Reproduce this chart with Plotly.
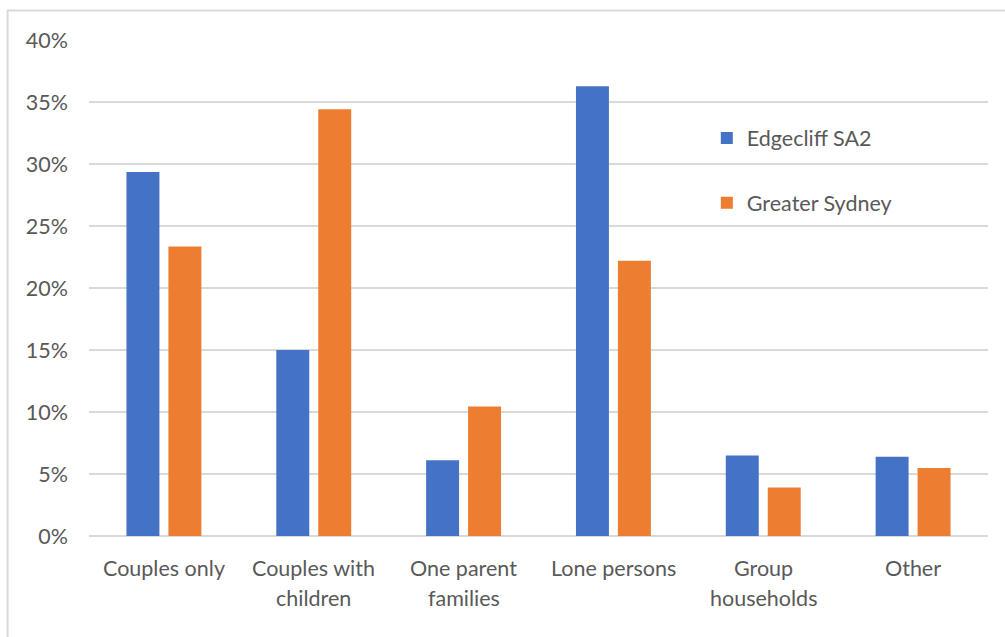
import plotly.graph_objects as go

# Household type shares, Edgecliff SA2 vs Greater Sydney
categories = ["Couples only", "Couples with children", "One parent families",
              "Lone persons", "Group households", "Other"]
label_lines = [["Couples only"], ["Couples with", "children"], ["One parent", "families"],
               ["Lone persons"], ["Group", "households"], ["Other"]]
edgecliff = [0.2935, 0.150, 0.061, 0.3628, 0.065, 0.064]
greater_sydney = [0.2335, 0.3441, 0.1045, 0.222, 0.0392, 0.0548]
series_names = ["Edgecliff SA2", "Greater Sydney"]
y_ticks = [0, 0.05, 0.10, 0.15, 0.20, 0.25, 0.30, 0.35, 0.40]

BLUE = "#4472C4"
ORANGE = "#ED7D31"
GRID = "#d9d9d9"
TEXT = "#595959"
FONT = "Lato"
FS = 21.5

W, H = 1005, 637
L, R, T, B = 88.5, 16.5, 39.5, 101
PW, PH = W - L - R, H - T - B


def px_x(px):
    return (px - L) / PW


def px_y(py):
    return (H - B - py) / PH


fig = go.Figure()
fig.add_trace(go.Bar(
    x=list(range(len(categories))), y=edgecliff, name=series_names[0],
    marker=dict(color=BLUE, line=dict(width=0)),
    width=0.22, offset=-0.25, legendgroup="a",
))
fig.add_trace(go.Bar(
    x=list(range(len(categories))), y=greater_sydney, name=series_names[1],
    marker=dict(color=ORANGE, line=dict(width=0)),
    width=0.22, offset=0.03, legendgroup="b",
))

# category labels, one annotation per text line
annotations = []
for i, lines in enumerate(label_lines):
    for j, line in enumerate(lines):
        annotations.append(dict(
            x=i, xref="x", y=px_y(568 + 30 * j), yref="paper",
            text=line, showarrow=False, xanchor="center", yanchor="middle",
            font=dict(family=FONT, size=FS, color=TEXT),
        ))

fig.update_layout(
    width=W, height=H,
    margin=dict(l=L, r=R, t=T, b=B, pad=0),
    paper_bgcolor="white", plot_bgcolor="white",
    barmode="overlay",
    font=dict(family=FONT, size=FS, color=TEXT),
    xaxis=dict(
        range=[-0.5, len(categories) - 0.5], showticklabels=False,
        showgrid=False, zeroline=False, showline=False, ticks="",
    ),
    yaxis=dict(
        range=[0, 0.4], tickvals=y_ticks, tickformat=".0%",
        showgrid=True, gridcolor=GRID, gridwidth=1.5,
        zeroline=True, zerolinecolor=GRID, zerolinewidth=1.5,
        showline=False, ticks="", ticklabelstandoff=20,
        tickfont=dict(family=FONT, size=FS, color=TEXT),
    ),
    legend=dict(
        x=px_x(707), y=px_y(117), xanchor="left", yanchor="top",
        orientation="v", tracegroupgap=34, bgcolor="rgba(0,0,0,0)",
        font=dict(family=FONT, size=FS, color=TEXT),
    ),
    annotations=annotations,
    shapes=[dict(
        type="rect", xref="paper", yref="paper",
        x0=px_x(7), x1=px_x(W + 20), y0=px_y(H + 20), y1=px_y(10),
        line=dict(color=GRID, width=2), fillcolor="rgba(0,0,0,0)", layer="below",
    )],
)

fig.write_html("out.html")
